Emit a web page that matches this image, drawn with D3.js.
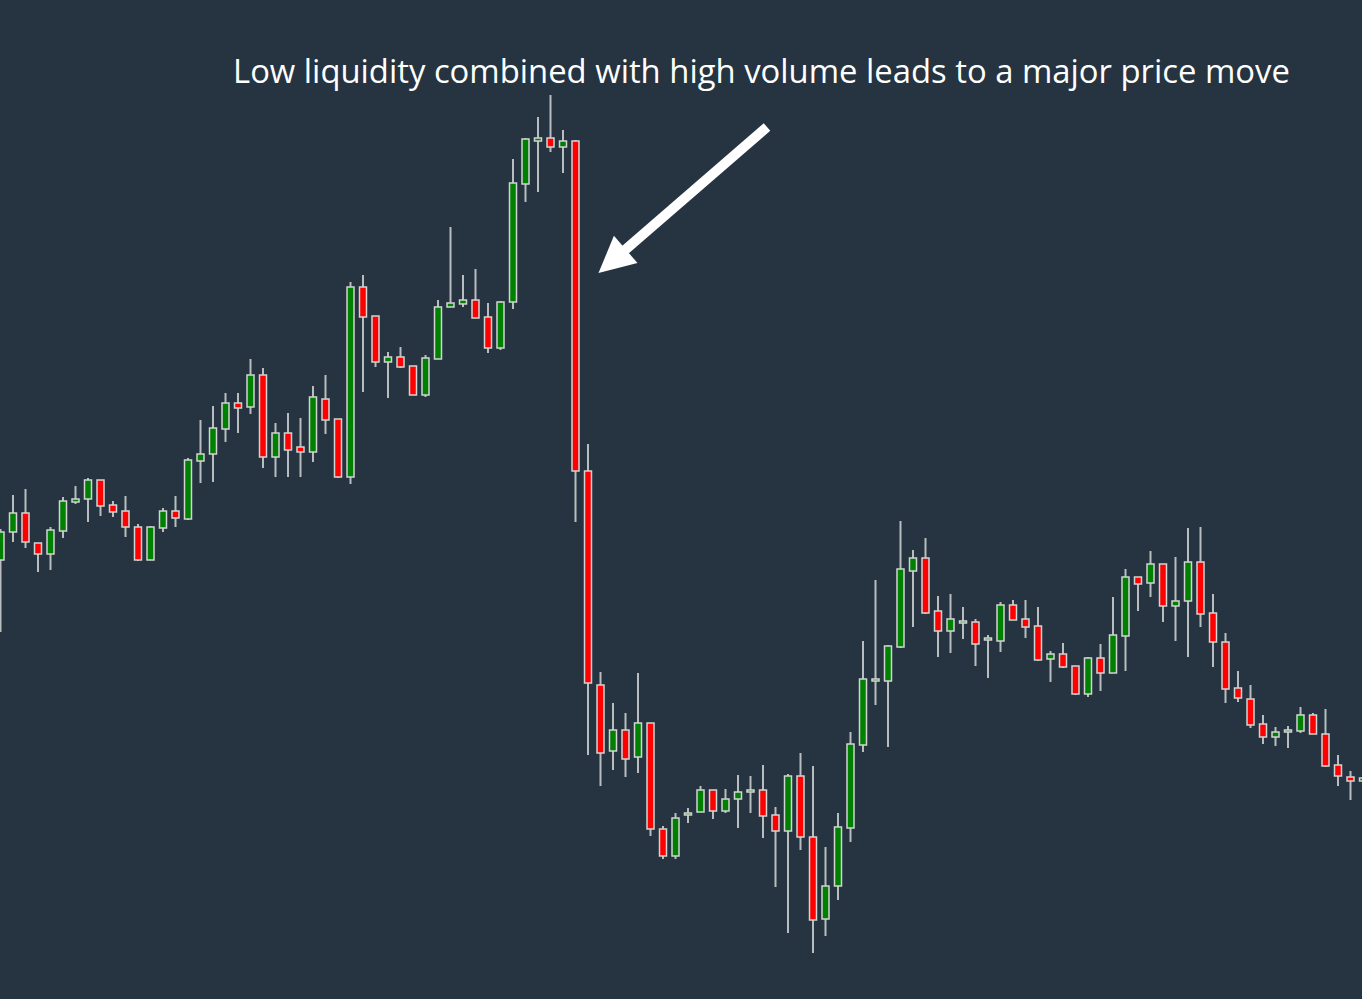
<!DOCTYPE html>
<html>
<head>
<meta charset="utf-8">
<script src="https://cdn.jsdelivr.net/npm/d3@7"></script>
<style>
  html, body { margin: 0; padding: 0; background: #253440; overflow: hidden; }
  svg { display: block; }
</style>
</head>
<body>
<div id="chart"></div>
<script>
var width = 1362,
    height = 999;

// price (arbitrary units, one unit = one pixel)
var open = [440,468,487,457,446,469,498,501,520,495,
  489,473,440,472,489,481,539,546,571,597,
  593,625,543,567,553,548,601,581,523,713,
  684,638,643,634,605,641,693,696,700,683,
  652,698,816,859,862,853,859,529,315,249,
  270,243,277,171,144,185,188,210,189,201,
  208,210,185,169,224,163,81,114,172,255,
  319,319,353,429,442,389,369,377,378,360,
  359,395,381,374,341,346,334,306,342,327,
  364,423,417,436,394,399,438,387,358,312,
  301,276,263,268,269,285,266,235,223,219];

var high = [471,505,511,457,473,503,514,522,520,499,
  504,476,474,492,504,542,580,594,607,607,
  641,632,577,587,582,614,625,581,718,725,
  684,648,653,634,645,700,773,725,731,697,
  699,841,862,883,905,870,860,556,328,297,
  287,327,277,174,187,192,214,210,211,225,
  224,235,193,226,247,234,153,187,268,359,
  420,355,479,450,462,404,406,393,381,365,
  398,400,400,393,349,357,334,343,356,403,
  431,423,449,436,443,472,473,406,367,329,
  315,285,273,274,293,287,291,245,229,225];

var low = [368,458,452,428,430,462,496,478,484,483,
  463,439,440,468,473,480,517,518,558,567,
  586,532,523,523,523,538,566,522,516,608,
  633,602,632,605,603,641,693,693,682,647,
  650,691,798,808,848,827,478,245,214,230,
  223,227,164,141,141,177,188,181,187,172,
  187,162,113,67,150,47,64,100,158,248,
  295,253,352,373,386,343,347,361,334,322,
  348,380,362,339,318,332,305,303,309,327,
  329,389,403,378,359,343,373,333,297,298,
  272,256,254,252,267,266,233,214,200,218];

var close = [468,487,458,446,470,499,501,520,494,488,
  473,440,473,489,482,540,546,572,597,592,
  625,543,567,550,548,603,580,523,713,683,
  638,643,633,605,642,693,697,700,682,652,
  698,817,861,862,853,859,529,317,247,270,
  241,277,171,144,182,187,210,189,201,208,
  210,184,169,224,163,80,114,173,256,321,
  321,354,431,442,387,369,381,379,356,362,
  395,380,373,340,346,333,306,342,327,365,
  423,416,436,394,399,438,386,358,311,302,
  275,263,268,270,285,266,234,224,219,222];

var title = "Low liquidity combined with high volume leads to a major price move";
var arrowTarget = 46;   // the big red candle the arrow points at

var upColor = "#008000",
    downColor = "#ff0000",
    outline = "#d2d4d4",
    wickColor = "#b9bdbf";

var data = open.map(function(o, i) {
  return {i: i, open: o, high: high[i], low: low[i], close: close[i]};
});

var x = d3.scaleLinear()
    .domain([0, data.length - 1])
    .range([0.5, 0.5 + 12.5 * (data.length - 1)]);

var y = d3.scaleLinear()
    .domain([0, 1000])
    .range([1000, 0]);

var svg = d3.select("#chart").append("svg")
    .attr("width", width)
    .attr("height", height);

svg.append("rect")
    .attr("width", width)
    .attr("height", height)
    .attr("fill", "#253440");

var candle = svg.append("g").selectAll("g")
    .data(data)
    .enter().append("g");

candle.append("line")
    .attr("x1", function(d) { return x(d.i); })
    .attr("x2", function(d) { return x(d.i); })
    .attr("y1", function(d) { return y(d.high); })
    .attr("y2", function(d) { return y(d.low); })
    .attr("stroke", wickColor)
    .attr("stroke-width", 2);

var bodyW = 7;
candle.append("rect")
    .attr("x", function(d) { return x(d.i) - bodyW / 2; })
    .attr("y", function(d) { return y(Math.max(d.open, d.close)); })
    .attr("width", bodyW)
    .attr("height", function(d) {
      return Math.max(2, Math.abs(y(d.open) - y(d.close)));
    })
    .attr("fill", function(d) { return d.close >= d.open ? upColor : downColor; })
    .attr("stroke", outline)
    .attr("stroke-width", 1.5);

// title
var t = svg.append("text")
    .attr("x", 233)
    .attr("y", 83)
    .attr("fill", "#ffffff")
    .style("font-family", "'Open Sans', 'Noto Sans', sans-serif")
    .style("font-size", "32px")
    .text(title);
// fit to the width it has in the picture
var w = t.node().getComputedTextLength();
t.style("font-size", (32 * 1057 / w).toFixed(2) + "px");

// arrow pointing at the crash candle
var tip = [x(arrowTarget) + 23, y(727)],
    tail = [767, 127];
var dx = tip[0] - tail[0], dy = tip[1] - tail[1],
    len = Math.sqrt(dx * dx + dy * dy),
    ux = dx / len, uy = dy / len,
    headL = 36, headW = 18;
var base = [tip[0] - headL * ux, tip[1] - headL * uy];

svg.append("line")
    .attr("x1", tail[0]).attr("y1", tail[1])
    .attr("x2", base[0] + 4 * ux).attr("y2", base[1] + 4 * uy)
    .attr("stroke", "#ffffff")
    .attr("stroke-width", 10);

svg.append("path")
    .attr("d", d3.line()([
      tip,
      [base[0] - headW * uy, base[1] + headW * ux],
      [base[0] + headW * uy, base[1] - headW * ux]
    ]) + "Z")
    .attr("fill", "#ffffff");
</script>
</body>
</html>
